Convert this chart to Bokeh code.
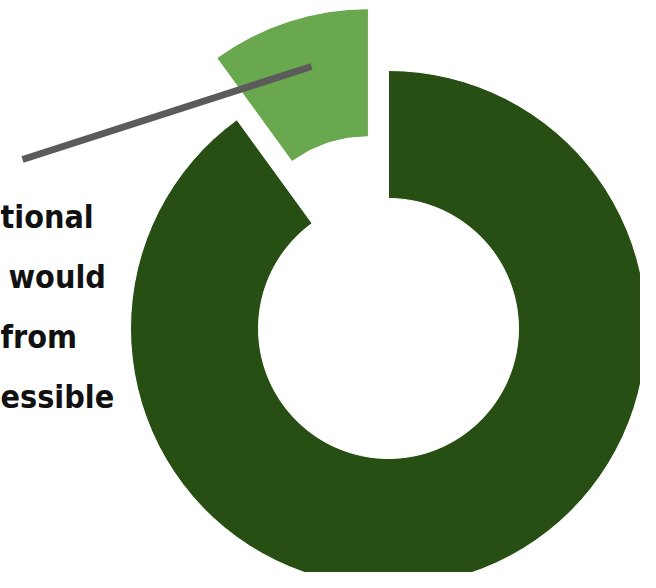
import math
from bokeh.plotting import figure
from bokeh.models import Range1d, ColumnDataSource
from bokeh.core.properties import value
from bokeh.embed import file_html
from bokeh.resources import INLINE

# Data
categories = ["Other projects", "Additional projects"]
shares = [90, 10]
colors = ["#274e13", "#6aa84f"]
explode = [0, 65]
label_lines = ["tional", "would", "from", "essible"]
label_x = [0, 8, 0, 0]

W, H = 640, 572
p = figure(width=W, height=H, output_backend="svg", toolbar_location=None,
           x_range=Range1d(0, W), y_range=Range1d(0, H),
           x_axis_location=None, y_axis_location=None, min_border=0,
           outline_line_color=None)
p.grid.visible = False
p.background_fill_color = "white"


def Y(y_img):
    return H - y_img


cx, cy = 388, Y(328)
r_out, r_in = 258, 130

total = sum(shares)
starts, ends, xs, ys = [], [], [], []
a = math.pi / 2
order = [1, 0]
for i in order:
    span = 2 * math.pi * shares[i] / total
    s, e = a, a + span
    mid = (s + e) / 2
    starts.append(s)
    ends.append(e)
    xs.append(cx + explode[i] * math.cos(mid))
    ys.append(cy + explode[i] * math.sin(mid))
    a = e

src = ColumnDataSource(dict(x=xs, y=ys, start=starts, end=ends,
                            color=[colors[i] for i in order]))
p.annular_wedge(x="x", y="y", inner_radius=r_in, outer_radius=r_out,
                start_angle="start", end_angle="end", fill_color="color",
                line_color="white", line_width=1, source=src)

# leader line
p.line(x=[22, 311], y=[Y(159), Y(66)], line_color="#5b5b5b", line_width=7)

# label
base_img = [216, 276, 336, 396]
p.text(x=label_x, y=[Y(b) for b in base_img], text=label_lines,
       text_font=value("'Liberation Sans Narrow', 'DejaVu Sans Condensed', Roboto"),
       text_font_style="bold",
       text_font_size="32px", text_color="#111111", text_baseline="alphabetic",
       text_align="left")

open("out.html", "w").write(file_html(p, INLINE))
